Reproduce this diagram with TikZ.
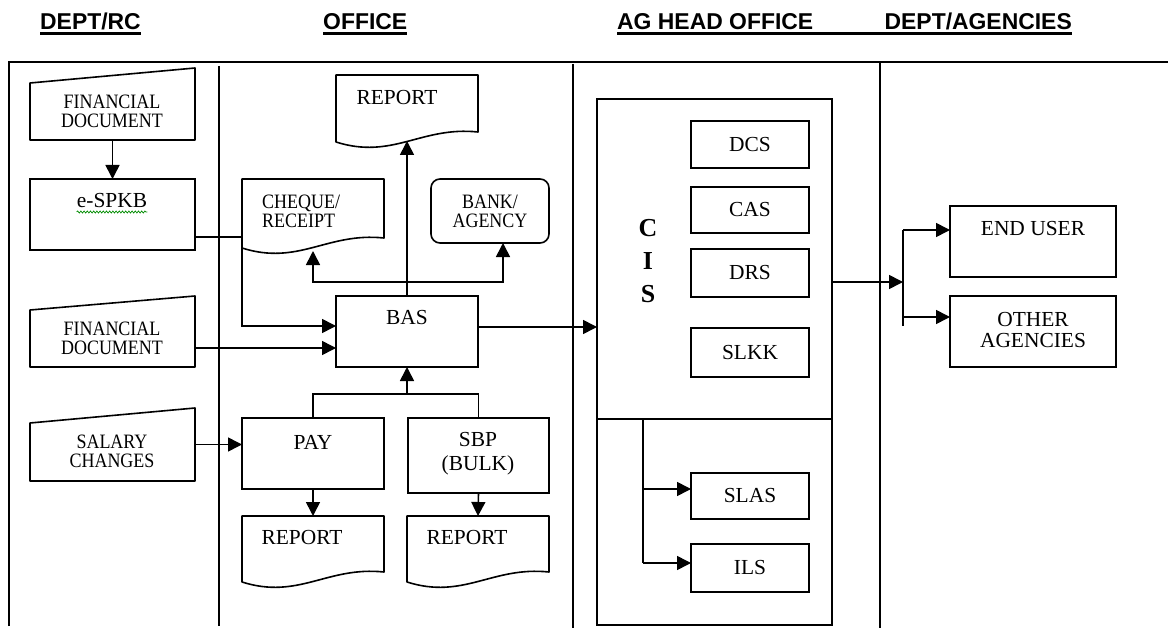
\documentclass[tikz,border=0pt]{standalone}
\usepackage{fontspec}
\setmainfont{Liberation Serif}
\newfontfamily\hdrfont{Liberation Sans}
\newfontfamily\narrowserif[FakeStretch=0.88]{Liberation Serif}
\usetikzlibrary{arrows.meta,calc,decorations.pathmorphing}
\newcommand\docpath[1]{\draw[shp] (#1.south west) -- (#1.north west) -- (#1.north east) -- ([yshift=10bp]#1.south east) .. controls ($(#1.south west)!0.6!(#1.south east)+(0,-16)$) and ($(#1.south west)!0.4!(#1.south east)+(0,18)$) .. (#1.south west) -- cycle;}
\newcommand\manpath[2]{\draw[shp] (#1.south west) -- (#1.south east) -- (#1.north east) -- ([yshift=-#2bp]#1.north west) -- cycle;}
\begin{document}
\begin{tikzpicture}[x=1bp,y=-1bp,
  geo/.style={inner sep=0pt, outer sep=0pt, minimum width=#1},
  box/.style={draw, line width=1.6bp, inner sep=0pt, outer sep=0pt},
  shp/.style={line width=1.6bp, line join=round},
  txt/.style={inner sep=0pt, align=center, font=\fontsize{21.5}{21}\selectfont},
  stxt/.style={inner sep=0pt, align=center, font=\narrowserif\fontsize{20.5}{19}\selectfont},
  hdr/.style={inner sep=0pt, font=\hdrfont\bfseries\fontsize{23}{23}\selectfont},
  arr/.style={line width=1.6bp, -{Triangle[length=14bp,width=14bp]}},
  con/.style={line width=1.6bp},
  div/.style={line width=1.6bp},
  frm/.style={line width=2.8bp}]
\fill[white] (0,0) rectangle (1168,628);
\useasboundingbox (0,0) rectangle (1168,628);

% headers
\node[hdr, anchor=base west] (h1) at (40,30) {DEPT/RC};
\node[hdr, anchor=base west] (h2) at (323,30) {OFFICE};
\node[hdr, anchor=base west] (h3) at (617,30) {AG HEAD OFFICE};
\node[hdr, anchor=base east] (h4) at (1072,30) {DEPT/AGENCIES};
\draw[line width=2.8bp] ([yshift=-3.5bp]h1.base west) -- ([yshift=-3.5bp]h1.base east);
\draw[line width=2.8bp] ([yshift=-3.5bp]h2.base west) -- ([yshift=-3.5bp]h2.base east);
\draw[line width=2.8bp] ([yshift=-3.5bp]h3.base west) -- ([yshift=-3.5bp]h4.base east);

% frame and lanes
\draw[frm] (9,626) -- (9,62) -- (1168,62);
\draw[div] (219,66) -- (219,626);
\draw[div] (573,64) -- (573,628);
\draw[div] (880,63) -- (880,628);

% ---- DEPT/RC lane
\node[geo=165bp, minimum height=72bp] (fd1) at (112.5,104) {};
\manpath{fd1}{15}
\node[stxt] (tfd1) at (112,111) {FINANCIAL\\DOCUMENT};
\node[box, minimum width=165bp, minimum height=71bp] (espkb) at (112.5,214.5) {};
\node[txt, anchor=base] (tespkb) at (112,208) {e-SPKB};
\draw[green!55!black, line width=0.7bp, decorate, decoration={snake, amplitude=1bp, segment length=3.2bp}] ([yshift=-4bp]tespkb.base west) -- ([yshift=-4bp]tespkb.base east);
\node[geo=165bp, minimum height=71bp] (fd2) at (112.5,331.5) {};
\manpath{fd2}{14}
\node[stxt] (tfd2) at (112,338) {FINANCIAL\\DOCUMENT};
\node[geo=165bp, minimum height=73bp] (sal) at (112.5,444.5) {};
\manpath{sal}{15}
\node[stxt] (tsal) at (112,451) {SALARY\\CHANGES};

% ---- OFFICE lane
\node[geo=142bp, minimum height=67bp] (rep1) at (407,108.5) {};
\docpath{rep1}
\node[txt] (trep1) at (397,98) {REPORT};
\node[geo=142bp, minimum height=69bp] (cheq) at (313,213.5) {};
\docpath{cheq}
\node[stxt, anchor=west, align=left] (tcheq) at (262,211) {CHEQUE/\\RECEIPT};
\node[box, rounded corners=9bp, minimum width=118bp, minimum height=64bp] (bank) at (490,211) {};
\node[stxt] (tbank) at (490,211) {BANK/\\AGENCY};
\node[box, minimum width=142bp, minimum height=71bp] (bas) at (407,331.5) {};
\node[txt] (tbas) at (407,318) {BAS};
\node[box, minimum width=142bp, minimum height=71bp] (pay) at (313,453.5) {};
\node[txt] (tpay) at (313,442) {PAY};
\node[box, minimum width=141bp, minimum height=75bp] (sbp) at (478.5,455.5) {};
\node[txt] (tsbp) at (478,454) {SBP\\[3bp](BULK)};
\node[geo=142bp, minimum height=66bp] (rep2) at (313,549) {};
\docpath{rep2}
\node[txt] (trep2) at (302,538) {REPORT};
\node[geo=142bp, minimum height=66bp] (rep3) at (478,549) {};
\docpath{rep3}
\node[txt] (trep3) at (467,538) {REPORT};

% ---- AG HEAD OFFICE lane
\node[box, minimum width=235bp, minimum height=526bp] (cis) at (714.5,362) {};
\coordinate (cisdivL) at (597,419);
\coordinate (cisdivR) at (832,419);
\draw[con] (cisdivL) -- (cisdivR);
\node[txt, font=\bfseries\fontsize{26}{33}\selectfont] (tcis) at (648,261) {C\\I\\S};
\node[box, txt, minimum width=118bp, minimum height=47bp] (dcs) at (750,144.5) {DCS};
\node[box, txt, minimum width=118bp, minimum height=46bp] (cas) at (750,210) {CAS};
\node[box, txt, minimum width=118bp, minimum height=48bp] (drs) at (750,273) {DRS};
\node[box, txt, minimum width=118bp, minimum height=49bp] (slkk) at (750,352.5) {SLKK};
\node[box, txt, minimum width=118bp, minimum height=46bp] (slas) at (750,496) {SLAS};
\node[box, txt, minimum width=118bp, minimum height=48bp] (ils) at (750,568) {ILS};

% ---- DEPT/AGENCIES lane
\node[box, minimum width=166bp, minimum height=71bp] (eu) at (1033,241.5) {};
\node[txt] (teu) at (1033,229) {END USER};
\node[box, minimum width=166bp, minimum height=71bp] (oth) at (1033,331.5) {};
\node[txt] (toth) at (1033,330) {OTHER\\AGENCIES};

% ---- connectors
\draw[arr] (fd1.south) -- (espkb.north);
\coordinate (j1) at (242,326);
\draw[arr] ([yshift=13bp]espkb.south east) -| (j1) -- (j1 -| bas.west);
\coordinate (y348) at (0,348);
\draw[arr] (fd2.east |- y348) -- (bas.west |- y348);
\draw[arr] (sal.east) -- (pay.west |- sal.east);

\draw[arr] (bas.north) -- ([yshift=1bp]bas.north |- rep1.south);
\coordinate (jb) at (407,282);
\draw[arr] (jb) -| ([yshift=-3bp]cheq.south);
\draw[arr] (jb) -| ([xshift=13bp]bank.south);

\coordinate (jp) at (407,394);
\draw[con] (pay.north) -- (pay.north |- jp) -- (sbp.north |- jp) -- (sbp.north);
\draw[arr] (jp) -- (bas.south);
\draw[arr] (pay.south) -- (rep2.north);
\draw[arr] (sbp.south) -- (rep3.north);

\coordinate (y327) at (0,327);
\draw[arr] (bas.east |- y327) -- (cis.west |- y327);

\coordinate (js) at (643,419);
\coordinate (jsl) at (643,489);
\coordinate (jil) at (643,563);
\draw[con] (js) -- (jil);
\draw[arr] (jsl) -- (slas.west |- jsl);
\draw[arr] (jil) -- (ils.west |- jil);

\coordinate (jo) at (903,282);
\coordinate (jeu) at (903,230);
\coordinate (joth) at (903,317);
\draw[arr] (cis.east |- jo) -- (jo);
\draw[con] (jeu) -- ([yshift=-9bp]joth);
\draw[arr] (jeu) -- (eu.west |- jeu);
\draw[arr] (joth) -- (oth.west |- joth);
\end{tikzpicture}
\end{document}
